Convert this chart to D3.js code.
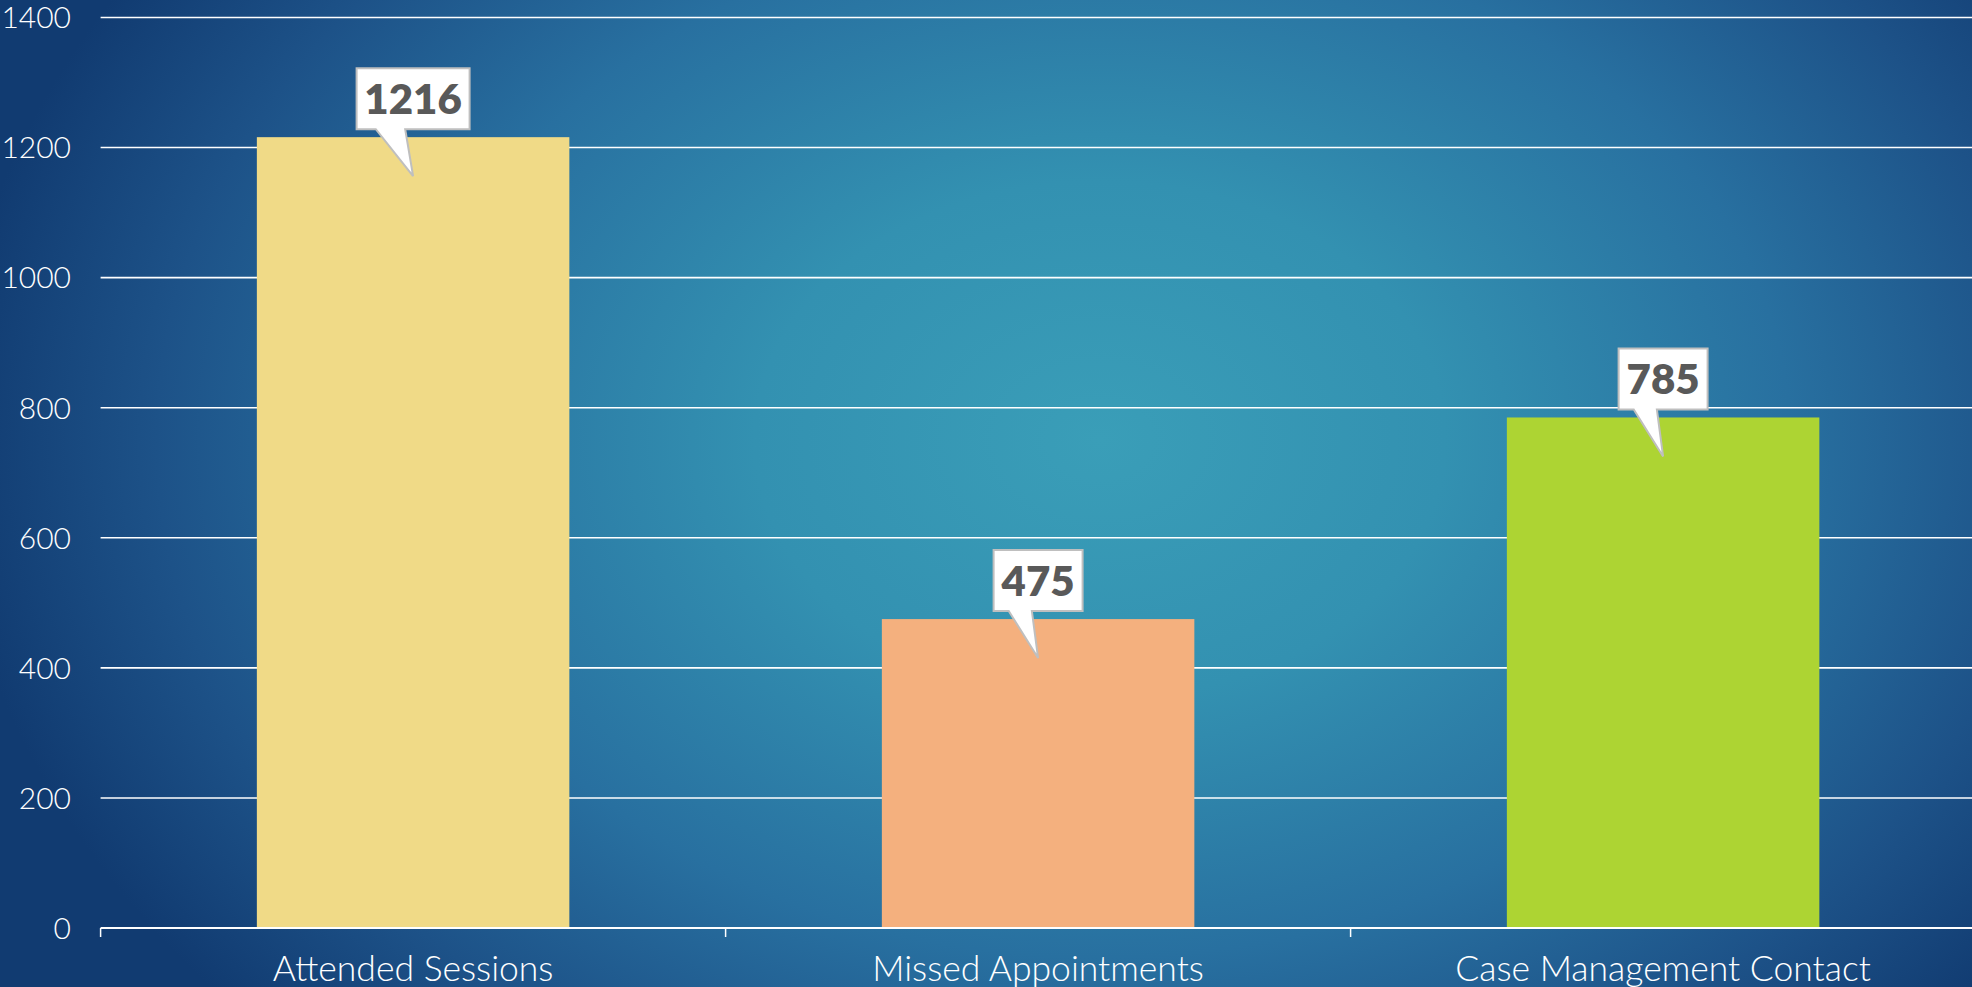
<!DOCTYPE html>
<html><head><meta charset="utf-8">
<script src="https://cdn.jsdelivr.net/npm/d3@7"></script>
<style>html,body{margin:0;padding:0;overflow:hidden;background:#103a70}</style>
</head><body>
<svg id="chart" width="1972" height="987"></svg>
<script>
const categories = ["Attended Sessions", "Missed Appointments", "Case Management Contact"];
const values = [1216, 475, 785];
const barColors = ["#F0DA87", "#F4B07E", "#ADD433"];
const yTicks = [0, 200, 400, 600, 800, 1000, 1200, 1400];

const W = 1972, H = 987;
const svg = d3.select("#chart");
const defs = svg.append("defs");
const grad = defs.append("radialGradient").attr("id", "bg")
  .attr("gradientUnits", "userSpaceOnUse")
  .attr("cx", 1100).attr("cy", 440).attr("r", 1150)
  .attr("gradientTransform", "translate(1100,440) scale(1,0.75) translate(-1100,-440)");
[[0, "#3A9EB8"], [0.3, "#3391B1"], [0.6, "#2870A0"], [0.82, "#1D5288"], [1, "#113B71"]]
  .forEach(([o, c]) => grad.append("stop").attr("offset", o).attr("stop-color", c));
svg.append("rect").attr("width", W).attr("height", H).attr("fill", "url(#bg)");

const x0 = 100.6, step = 625;
const x = d3.scaleBand().domain(categories).range([x0, x0 + step * 3]).paddingInner(0.5).paddingOuter(0.25);
const y = d3.scaleLinear().domain([0, 1400]).range([928, 17.5]);

const font = "Lato, 'Open Sans', sans-serif";

// gridlines
svg.append("g").selectAll("line").data(yTicks.filter(d => d > 0)).join("line")
  .attr("x1", x0).attr("x2", W).attr("y1", d => y(d)).attr("y2", d => y(d))
  .attr("stroke", "#ffffff").attr("stroke-width", 1.6);

// y labels
svg.append("g").selectAll("text").data(yTicks).join("text")
  .attr("x", 71).attr("y", d => y(d)).attr("dy", "0.36em")
  .attr("text-anchor", "end").attr("fill", "#ffffff")
  .attr("font-family", font).attr("font-weight", 300).attr("font-size", 30)
  .text(d => d);

// bars
svg.append("g").selectAll("rect").data(values).join("rect")
  .attr("x", (d, i) => x(categories[i])).attr("width", x.bandwidth())
  .attr("y", d => y(d)).attr("height", d => y(0) - y(d))
  .attr("fill", (d, i) => barColors[i]);

// x axis
const ax = svg.append("g").attr("transform", `translate(0,${y(0)})`);
ax.append("line").attr("x1", x0).attr("x2", W).attr("stroke", "#fff").attr("stroke-width", 2);
ax.selectAll("line.tk").data([0, 1, 2]).join("line").attr("class", "tk")
  .attr("x1", i => x0 + i * step).attr("x2", i => x0 + i * step)
  .attr("y1", 0).attr("y2", 9).attr("stroke", "#fff").attr("stroke-width", 1.5);
ax.selectAll("text.cl").data(categories).join("text").attr("class", "cl")
  .attr("x", d => x(d) + x.bandwidth() / 2).attr("y", 53)
  .attr("text-anchor", "middle").attr("fill", "#fff")
  .attr("font-family", font).attr("font-weight", 300).attr("font-size", 35.5)
  .text(d => d);

// callouts
const cg = svg.append("g");
values.forEach((v, i) => {
  const cx = x(categories[i]) + x.bandwidth() / 2;
  const top = y(v);
  const label = String(v);
  const bw = 17 + label.length * 24;
  const bh = 61;
  const bb = top - 8, bt = bb - bh, bl = cx - bw / 2, br = cx + bw / 2;
  const p1 = bl + bw * 0.17, p2 = bl + bw * 0.43;
  const tipY = top + 39;
  const path = `M${bl},${bt} L${br},${bt} L${br},${bb} L${p2},${bb} L${cx},${tipY} L${p1},${bb} L${bl},${bb} Z`;
  cg.append("path").attr("d", path).attr("fill", "#ffffff").attr("stroke", "#BFBFBF").attr("stroke-width", 2);
  cg.append("text").attr("x", cx).attr("y", bt + bh / 2).attr("dy", "0.36em")
    .attr("text-anchor", "middle").attr("fill", "#595959")
    .attr("font-family", font).attr("font-weight", 800).attr("font-size", 42)
    .text(label);
});
</script>
</body></html>
